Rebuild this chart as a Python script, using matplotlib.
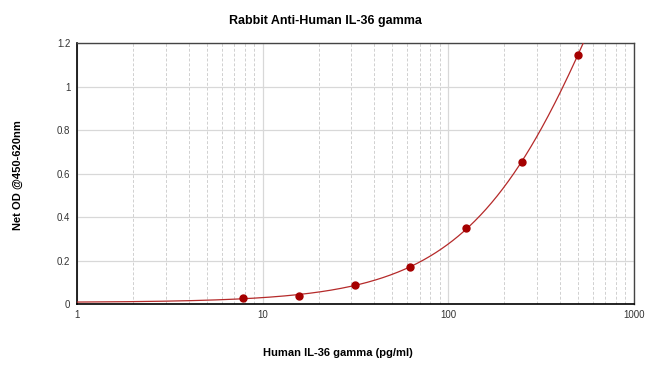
import matplotlib
matplotlib.use("Agg")
import matplotlib.pyplot as plt
import numpy as np
from matplotlib.ticker import FixedLocator, NullFormatter, LogLocator

# Data
conc = [7.8125, 15.625, 31.25, 62.5, 125, 250, 500]
od = [0.026, 0.039, 0.089, 0.170, 0.351, 0.652, 1.146]

title = "Rabbit Anti-Human IL-36 gamma"
xlabel = "Human IL-36 gamma (pg/ml)"
ylabel = "Net OD @450-620nm"
yticks = [0, 0.2, 0.4, 0.6, 0.8, 1, 1.2]
ytick_labels = ["0", "0.2", "0.4", "0.6", "0.8", "1", "1.2"]
xticks = [1, 10, 100, 1000]
xtick_labels = ["1", "10", "100", "1000"]

plt.rcParams["font.family"] = ["Liberation Sans", "DejaVu Sans"]

# 4PL fit: y = a + (d - a) * g, g = (x/c)^b / (1 + (x/c)^b)
x = np.array(conc, dtype=float)
y = np.array(od, dtype=float)
w = 1.0 / np.sqrt(y)
best = None
for b in np.linspace(0.8, 2.5, 86):
    for c in np.logspace(2, 4.5, 126):
        r = (x / c) ** b
        g = r / (1 + r)
        A = np.column_stack([np.ones_like(x), g]) * w[:, None]
        coef, *_ = np.linalg.lstsq(A, y * w, rcond=None)
        if coef[0] < 0:
            continue
        err = np.sum((A @ coef - y * w) ** 2)
        if best is None or err < best[0]:
            best = (err, coef, b, c)
_, (a0, span), b, c = best
xf = np.logspace(0, 3, 600)
rf = (xf / c) ** b
yf = a0 + span * rf / (1 + rf)

fig = plt.figure(figsize=(6.5, 3.76), dpi=100)
ax = fig.add_axes([0.119, 0.1915, 0.856, 0.694])

ax.plot(xf, yf, color="#b52a2a", lw=0.9, zorder=3)
ax.plot(conc, od, "o", color="#a50000", ms=5, zorder=4)

ax.set_xscale("log")
ax.set_xlim(1, 1000)
ax.set_ylim(0, 1.2)

ax.xaxis.set_major_locator(FixedLocator(xticks))
ax.set_xticklabels(xtick_labels)
ax.xaxis.set_minor_locator(LogLocator(base=10, subs=np.arange(2, 10)))
ax.xaxis.set_minor_formatter(NullFormatter())
ax.set_yticks(yticks)
ax.set_yticklabels(ytick_labels)

ax.grid(axis="x", which="minor", color="#d0d0d0", ls=(0, (3, 2)), lw=0.7)
ax.grid(axis="x", which="major", color="#d8d8d8", ls="-", lw=0.9)
ax.grid(axis="y", which="major", color="#d8d8d8", ls="-", lw=0.9)
ax.set_axisbelow(True)

ax.tick_params(which="both", length=0, labelsize=7, colors="#333333")
ax.tick_params(axis="x", pad=4)
ax.tick_params(axis="y", pad=5)
for side in ["left", "bottom"]:
    ax.spines[side].set_color("#000000")
    ax.spines[side].set_linewidth(1.2)
for side in ["top", "right"]:
    ax.spines[side].set_color("#444444")
    ax.spines[side].set_linewidth(1.0)

fig.text(0.5, 0.945, title, ha="center", va="center", fontsize=9, fontweight="bold")
fig.text(0.52, 0.062, xlabel, ha="center", va="center", fontsize=8, fontweight="bold")
fig.text(0.027, 0.535, ylabel, ha="center", va="center", rotation=90,
         fontsize=8, fontweight="bold")

fig.savefig("out.png", dpi=100)
